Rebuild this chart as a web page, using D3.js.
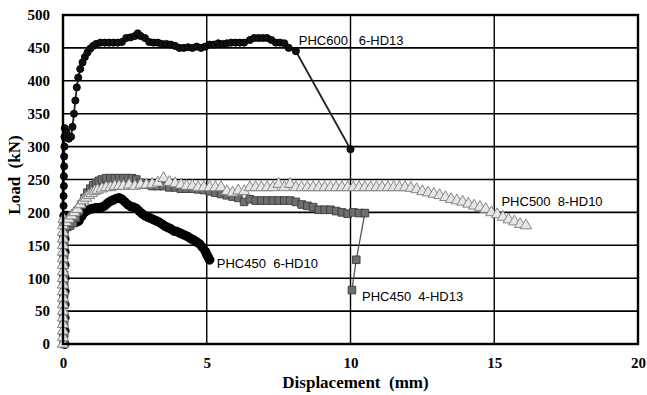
<!DOCTYPE html>
<html>
<head>
<meta charset="utf-8">
<script src="https://cdn.jsdelivr.net/npm/d3@7"></script>
<style>
  body { margin: 0; background: #fff; }
  svg text { white-space: pre; }
</style>
</head>
<body>
<div id="chart"></div>
<script>
// displacement (mm), load (kN)
const phc600 = [
  [0,0],[0,15],[0,30],[0,45],[0,60],[0,75],[0,90],[0,105],[0,120],[0,135],[0,150],[0,165],[0,180],
  [0.01,195],[0.02,210],[0.02,225],[0.03,240],[0.03,255],[0.04,270],[0.04,285],[0.05,300],[0.05,315],
  [0.06,328],[0.12,322],[0.2,312],[0.28,315],[0.33,330],[0.38,350],[0.43,370],[0.48,390],[0.53,405],
  [0.6,418],[0.68,428],[0.76,436],[0.85,443],[0.95,449],[1.05,453],[1.15,456],[1.3,458],[1.45,458],
  [1.6,458],[1.75,458],[1.9,458],[2.05,459],[2.2,465],[2.35,466],[2.5,468],[2.6,472],[2.7,468],
  [2.85,465],[3.0,459],[3.15,458],[3.3,458],[3.45,456],[3.6,456],[3.75,455],[3.9,453],[4.05,450],
  [4.2,450],[4.35,451],[4.5,450],[4.65,452],[4.8,450],[4.95,452],[5.1,455],[5.25,455],[5.4,457],
  [5.55,456],[5.7,457],[5.85,458],[6.0,458],[6.15,458],[6.3,458],[6.5,462],[6.65,465],[6.8,465],
  [6.95,465],[7.1,465],[7.25,462],[7.4,458],[7.55,458],[7.7,457],[7.85,450],[8.1,445],[10.0,296]
];

const phc450_6hd10 = [
  [0.06,0],[0.06,20],[0.06,40],[0.06,60],[0.06,80],[0.06,100],[0.06,120],[0.06,140],[0.06,160],[0.06,180],
  [0.08,195],[0.15,195],[0.25,190],[0.35,187],[0.45,185],[0.55,187],[0.65,194],[0.75,200],[0.85,203],
  [0.95,205],[1.05,206],[1.15,207],[1.25,207],[1.35,208],[1.45,210],[1.55,214],[1.65,217],[1.75,219],
  [1.85,221],[1.95,222],[2.05,220],[2.15,216],[2.25,212],[2.35,209],[2.45,208],[2.55,206],[2.65,202],
  [2.75,198],[2.85,195],[2.95,193],[3.05,191],[3.15,189],[3.25,187],[3.35,185],[3.45,182],[3.55,179],
  [3.65,177],[3.75,175],[3.85,172],[3.95,171],[4.05,169],[4.15,167],[4.25,165],[4.35,163],[4.45,160],
  [4.55,158],[4.65,155],[4.75,152],[4.85,147],[4.95,141],[5.0,136],[5.05,132],[5.1,128]
];

const phc450_4hd13 = [
  [0.04,0],[0.04,15],[0.04,30],[0.04,45],[0.04,60],[0.04,75],[0.04,90],[0.04,105],[0.04,120],
  [0.04,135],[0.04,150],[0.04,165],[0.06,175],[0.15,178],[0.25,180],[0.35,184],[0.45,192],[0.55,202],
  [0.65,212],[0.75,222],[0.85,230],[0.95,236],[1.05,241],[1.15,245],[1.25,248],[1.35,250],[1.5,252],
  [1.65,252],[1.8,252],[1.95,252],[2.1,252],[2.25,252],[2.4,252],[2.55,250],[2.7,245],[2.9,242],
  [3.1,240],[3.3,240],[3.5,240],[3.7,238],[3.9,238],[4.1,236],[4.3,236],[4.5,236],[4.7,235],
  [4.9,234],[5.1,232],[5.3,230],[5.5,228],[5.7,226],[5.9,224],[6.1,222],[6.3,216],[6.5,220],
  [6.7,218],[6.9,218],[7.1,218],[7.3,218],[7.5,218],[7.7,218],[7.9,218],[8.1,216],[8.3,212],
  [8.5,210],[8.7,208],[8.9,204],[9.1,204],[9.3,204],[9.5,202],[9.7,200],[9.9,198],[10.1,200],
  [10.3,199],[10.5,199],[10.2,128],[10.05,82]
];

const phc500_8hd10 = [
  [0,0],[0,10],[0,20],[0,30],[0,40],[0,50],[0,60],[0,70],[0,80],[0,90],[0,100],[0,110],[0,120],
  [0,130],[0,140],[0,150],[0,160],[0,170],[0,180],[0.02,190],[0.1,185],[0.2,190],[0.3,195],[0.4,200],
  [0.5,205],[0.6,212],[0.7,218],[0.8,222],[0.9,226],[1.0,229],[1.1,232],[1.2,234],[1.35,236],
  [1.5,238],[1.65,238],[1.8,240],[1.95,240],[2.1,240],[2.3,242],[2.5,240],[2.7,242],[2.9,242],
  [3.1,243],[3.3,245],[3.5,252],[3.7,246],[3.9,244],[4.1,242],[4.3,240],[4.5,240],[4.7,238],
  [4.9,238],[5.1,238],[5.3,238],[5.5,238],[5.7,232],[5.9,230],[6.1,233],[6.3,232],[6.5,238],
  [6.7,238],[6.9,238],[7.1,238],[7.3,238],[7.5,243],[7.7,238],[7.9,243],[8.1,238],[8.3,238],
  [8.5,238],[8.7,238],[8.9,238],[9.1,238],[9.3,238],[9.5,238],[9.7,238],[9.9,238],[10.1,238],
  [10.3,238],[10.5,238],[10.7,238],[10.9,238],[11.1,238],[11.3,238],[11.5,238],[11.7,238],
  [11.9,238],[12.1,237],[12.3,235],[12.5,232],[12.7,230],[12.9,228],[13.1,226],[13.3,223],
  [13.5,220],[13.7,218],[13.9,216],[14.1,213],[14.3,210],[14.5,208],[14.7,205],[14.9,200],
  [15.1,197],[15.3,193],[15.5,189],[15.7,186],[15.9,182],[16.1,180]
];

const xTicks = [0, 5, 10, 15, 20];
const yTicks = [0, 50, 100, 150, 200, 250, 300, 350, 400, 450, 500];

const labels = [
  { text: 'PHC600   6-HD13', x: 8.2, y: 455 },
  { text: 'PHC500  8-HD10', x: 15.25, y: 209 },
  { text: 'PHC450  6-HD10', x: 5.35, y: 115 },
  { text: 'PHC450  4-HD13', x: 10.4, y: 65 }
];

const width = 647, height = 395;
const margin = { top: 15, right: 9, bottom: 51, left: 63 };

const svg = d3.select('#chart').append('svg')
  .attr('width', width)
  .attr('height', height);

const x = d3.scaleLinear().domain([0, 20]).range([margin.left, width - margin.right]);
const y = d3.scaleLinear().domain([0, 500]).range([height - margin.bottom, margin.top]);

// grid
svg.append('g').selectAll('line.h')
  .data(yTicks.slice(1, -1))
  .enter().append('line')
    .attr('x1', x(0)).attr('x2', x(20))
    .attr('y1', d => y(d)).attr('y2', d => y(d))
    .attr('stroke', '#000').attr('stroke-width', 1.6);

svg.append('g').selectAll('line.v')
  .data(xTicks.slice(1, -1))
  .enter().append('line')
    .attr('y1', y(0)).attr('y2', y(500))
    .attr('x1', d => x(d)).attr('x2', d => x(d))
    .attr('stroke', '#000').attr('stroke-width', 1.4);

// axes labels
const yAxis = d3.axisLeft(y).tickValues(yTicks).tickSize(0).tickPadding(13);
const yg = svg.append('g').attr('transform', `translate(${margin.left},0)`).call(yAxis);
const xAxis = d3.axisBottom(x).tickValues(xTicks).tickSize(0).tickPadding(13);
const xg = svg.append('g').attr('transform', `translate(0,${height - margin.bottom})`).call(xAxis);
[yg, xg].forEach(g => {
  g.select('.domain').remove();
  g.selectAll('text')
    .attr('font-family', '"Liberation Serif", "Times New Roman", serif')
    .attr('font-weight', 'bold')
    .attr('font-size', 15)
    .attr('fill', '#000');
});

const line = d3.line().x(d => x(d[0])).y(d => y(d[1]));

function drawSeries(data, opts) {
  const g = svg.append('g');
  g.append('path')
    .datum(data)
    .attr('d', line)
    .attr('fill', 'none')
    .attr('stroke', opts.line)
    .attr('stroke-width', opts.lineWidth);
  g.selectAll('path.m')
    .data(data)
    .enter().append('path')
      .attr('transform', d => `translate(${x(d[0])},${y(d[1])})`)
      .attr('d', d3.symbol().type(opts.symbol).size(opts.size))
      .attr('fill', opts.fill)
      .attr('stroke', opts.stroke)
      .attr('stroke-width', 0.9);
}

drawSeries(phc600, { symbol: d3.symbolCircle, size: 40, fill: '#111', stroke: '#000', line: '#222', lineWidth: 1.8 });
drawSeries(phc450_6hd10, { symbol: d3.symbolCircle, size: 62, fill: '#000', stroke: '#000', line: '#000', lineWidth: 2.5 });
drawSeries(phc450_4hd13, { symbol: d3.symbolSquare, size: 58, fill: '#6e6e6e', stroke: '#3c3c3c', line: '#555', lineWidth: 1.3 });
drawSeries(phc500_8hd10, { symbol: d3.symbolTriangle, size: 56, fill: '#e6e6e6', stroke: '#7a7a7a', line: '#aaa', lineWidth: 1 });

// plot frame
svg.append('rect')
  .attr('x', x(0)).attr('y', y(500))
  .attr('width', x(20) - x(0)).attr('height', y(0) - y(500))
  .attr('fill', 'none').attr('stroke', '#000').attr('stroke-width', 2.4);

// series annotations
svg.append('g').selectAll('text')
  .data(labels)
  .enter().append('text')
    .attr('x', d => x(d.x))
    .attr('y', d => y(d.y))
    .attr('font-family', '"Liberation Sans", Arial, sans-serif')
    .attr('font-size', 13)
    .attr('fill', '#000')
    .text(d => d.text);

// axis titles
svg.append('text')
  .attr('x', (x(0) + x(20)) / 2 + 5)
  .attr('y', 388)
  .attr('text-anchor', 'middle')
  .attr('font-family', '"Liberation Serif", "Times New Roman", serif')
  .attr('font-weight', 'bold')
  .attr('font-size', 17)
  .text('Displacement  (mm)');

svg.append('text')
  .attr('transform', 'translate(20,175) rotate(-90)')
  .attr('text-anchor', 'middle')
  .attr('font-family', '"Liberation Serif", "Times New Roman", serif')
  .attr('font-weight', 'bold')
  .attr('font-size', 17)
  .text('Load  (kN)');
</script>
</body>
</html>
